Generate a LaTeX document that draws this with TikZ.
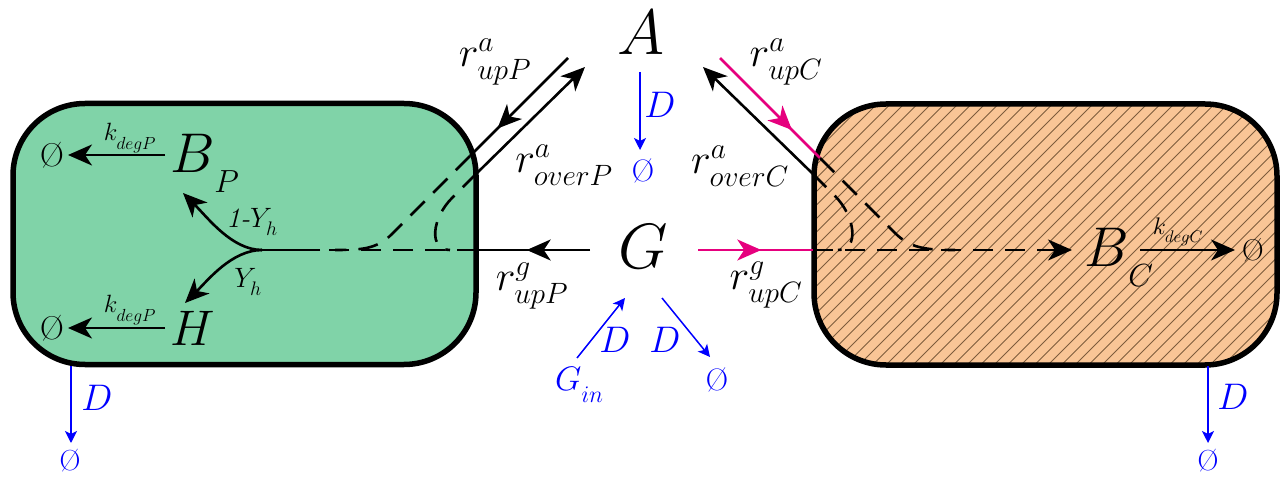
\documentclass[tikz,border=0pt]{standalone}
\usepackage{fix-cm}
\usetikzlibrary{arrows.meta,decorations.markings}
\definecolor{boxgreen}{RGB}{128,211,168}
\definecolor{boxorange}{RGB}{249,197,150}
\definecolor{mag}{RGB}{230,0,126}
\definecolor{hatchc}{RGB}{125,92,60}
\newcommand\fs[1]{\fontsize{#1}{#1}\selectfont}
\newcommand\lsub[2]{_{\lower#1\hbox{$\scriptstyle #2$}}}
\newcommand\rlab[2]{\fs{42}$r^{#1}\lsub{3pt}{#2}$}
\begin{document}
\begin{tikzpicture}[x=1pt,y=-1pt,
  every node/.style={inner sep=0pt, outer sep=0pt},
  tip/.style={-{Stealth[length=24pt,width=21pt,inset=7pt]}},
  bl/.style={line width=2.6pt},
  dsh/.style={bl, dash pattern=on 20pt off 12pt},
  blu/.style={blue, line width=1.5pt, -{Stealth[length=12pt,width=12pt,inset=3pt]}},
  bluetext/.style={text=blue},
  midarrow/.style={postaction={decorate}, decoration={markings, mark=at position #1 with {\arrow{Stealth[length=24pt,width=21pt,inset=7pt]}}}},
  comp/.style={draw, line width=5.5pt, rounded corners=72pt, minimum width=463pt, minimum height=261pt},
]
\useasboundingbox (0,0) rectangle (1285,478);

% compartments
\node[comp, fill=boxgreen] (P) at (244.5,234) {};
\fill[boxorange, rounded corners=72pt] (814,104) rectangle (1277,365);
\begin{scope}
  \clip[rounded corners=72pt] (814,104) rectangle (1277,365);
  \foreach \x in {520,533.5,...,1300} \draw[hatchc, line width=0.8pt] (\x,380) -- ++(290,-290);
\end{scope}
\node[comp] (C) at (1045.5,234.5) {};

% species
\node[anchor=base] (A) at (641,55) {\fs{64}$A$};
\node[anchor=base] (G) at (643,269) {\fs{64}$G$};
\node[anchor=base west] (BP) at (170,173) {\fs{56}$B$\fs{32}\raisebox{-20pt}{$P$}};
\node[anchor=base west] (H) at (170,345) {\fs{50}$H$};
\node[anchor=base west] (BC) at (1084,267) {\fs{56}$B$\fs{32}\raisebox{-20pt}{$C$}};
\node[anchor=base west, bluetext] (Gin) at (555,390) {\fs{34}$G\lsub{7pt}{in}$};

% sinks
\node (z1) at (52,155) {\fs{33}\O};
\node (z2) at (52,328) {\fs{33}\O};
\node (zC) at (1253,250) {\fs{30}\O};
\node[bluetext] (zA) at (643,171) {\fs{31}\O};
\node[bluetext] (zG) at (717,380) {\fs{31}\O};
\node[bluetext] (zP) at (70,461) {\fs{29}\O};
\node[bluetext] (zR) at (1208,461) {\fs{29}\O};

% rate labels
\node (kP1) at (130,138) {\fs{25}$k\lsub{5pt}{degP}$};
\node (kP2) at (130,310) {\fs{25}$k\lsub{5pt}{degP}$};
\node (kC) at (1178,232) {\fs{24}$k\lsub{5pt}{degC}$};
\node (y1) at (252,222) {\fs{28}\textit{1-}$Y\lsub{4pt}{h}$};
\node (y2) at (248,282) {\fs{28}$Y\lsub{4pt}{h}$};
\node (rupP) at (495,62) {\rlab{a}{upP}};
\node (roverP) at (564,165) {\rlab{a}{overP}};
\node (rupC) at (786,62) {\rlab{a}{upC}};
\node (roverC) at (740,166) {\rlab{a}{overC}};
\node (rgP) at (532,286) {\rlab{g}{upP}};
\node (rgC) at (766,285) {\rlab{g}{upC}};
\node[bluetext] (dA) at (660,105) {\fs{37}$D$};
\node[bluetext] (dGin) at (615,340) {\fs{37}$D$};
\node[bluetext] (dGout) at (665,340) {\fs{37}$D$};
\node[bluetext] (dP) at (97,398) {\fs{37}$D$};
\node[bluetext] (dC) at (1233,397) {\fs{37}$D$};

% connector end points
\coordinate (k1s) at (165,155); \coordinate (k1e) at (68,155);
\coordinate (k2s) at (165,328); \coordinate (k2e) at (68,328);
\coordinate (kCs) at (1140,250); \coordinate (kCe) at (1235,250);
\coordinate (br) at (262,250);
\coordinate (tBP) at (183,193); \coordinate (tH) at (185,303);
\coordinate (gL) at (590,250); \coordinate (eP) at (477,250); \coordinate (sP) at (320,250);
\coordinate (gR) at (698,250); \coordinate (eC) at (813,250); \coordinate (tBC) at (1072,250);
\coordinate (uP1) at (568,58); \coordinate (uP2) at (470,156);
\coordinate (oP1) at (477,173); \coordinate (oP2) at (585,67);
\coordinate (uC1) at (720,58); \coordinate (uC2) at (820,158);
\coordinate (oC1) at (812,173); \coordinate (oC2) at (703,67);
\coordinate (dA1) at (640,72); \coordinate (dA2) at (640,150);
\coordinate (gi1) at (577,358); \coordinate (gi2) at (625,298);
\coordinate (go1) at (662,298); \coordinate (go2) at (710,357);
\coordinate (dP1) at (71,366); \coordinate (dP2) at (71,443);
\coordinate (dC1) at (1208,366); \coordinate (dC2) at (1208,443);

% degradation
\draw[bl,tip] (k1s) -- (k1e);
\draw[bl,tip] (k2s) -- (k2e);
\draw[bl,tip] (kCs) -- (kCe);

% biomass / by-product split
\draw[bl,tip] (br) .. controls (232,250) and (208,218) .. (tBP);
\draw[bl,tip] (br) .. controls (232,250) and (208,280) .. (tH);

% glucose uptake, producer
\draw[bl, midarrow=0.56] (gL) -- (eP);
\draw[dsh] (eP) -- (sP);
\draw[bl] (sP) -- (br);

% acetate uptake / overflow, producer
\draw[bl, midarrow=0.72] (uP1) -- (uP2);
\draw[dsh] (uP2) -- (392,234) .. controls (377,249) and (362,250) .. (335,250);
\draw[bl,tip] (oP1) -- (oP2);
\draw[dsh] (oP1) -- (452,198) .. controls (432,218) and (428,250) .. (450,250);

% glucose uptake, consumer
\draw[mag, bl, midarrow=0.55] (gR) -- (eC);
\draw[dsh, tip] (eC) -- (tBC);

% acetate uptake / overflow, consumer
\draw[mag, bl, midarrow=0.72] (uC1) -- (uC2);
\draw[dsh] (uC2) -- (895,233) .. controls (910,248) and (925,250) .. (955,250);
\draw[bl,tip] (oC1) -- (oC2);
\draw[dsh] (oC1) -- (835,196) .. controls (855,216) and (860,250) .. (838,250);

% dilution
\draw[blu] (dA1) -- (dA2);
\draw[blu] (gi1) -- (gi2);
\draw[blu] (go1) -- (go2);
\draw[blu] (dP1) -- (dP2);
\draw[blu] (dC1) -- (dC2);
\end{tikzpicture}
\end{document}
